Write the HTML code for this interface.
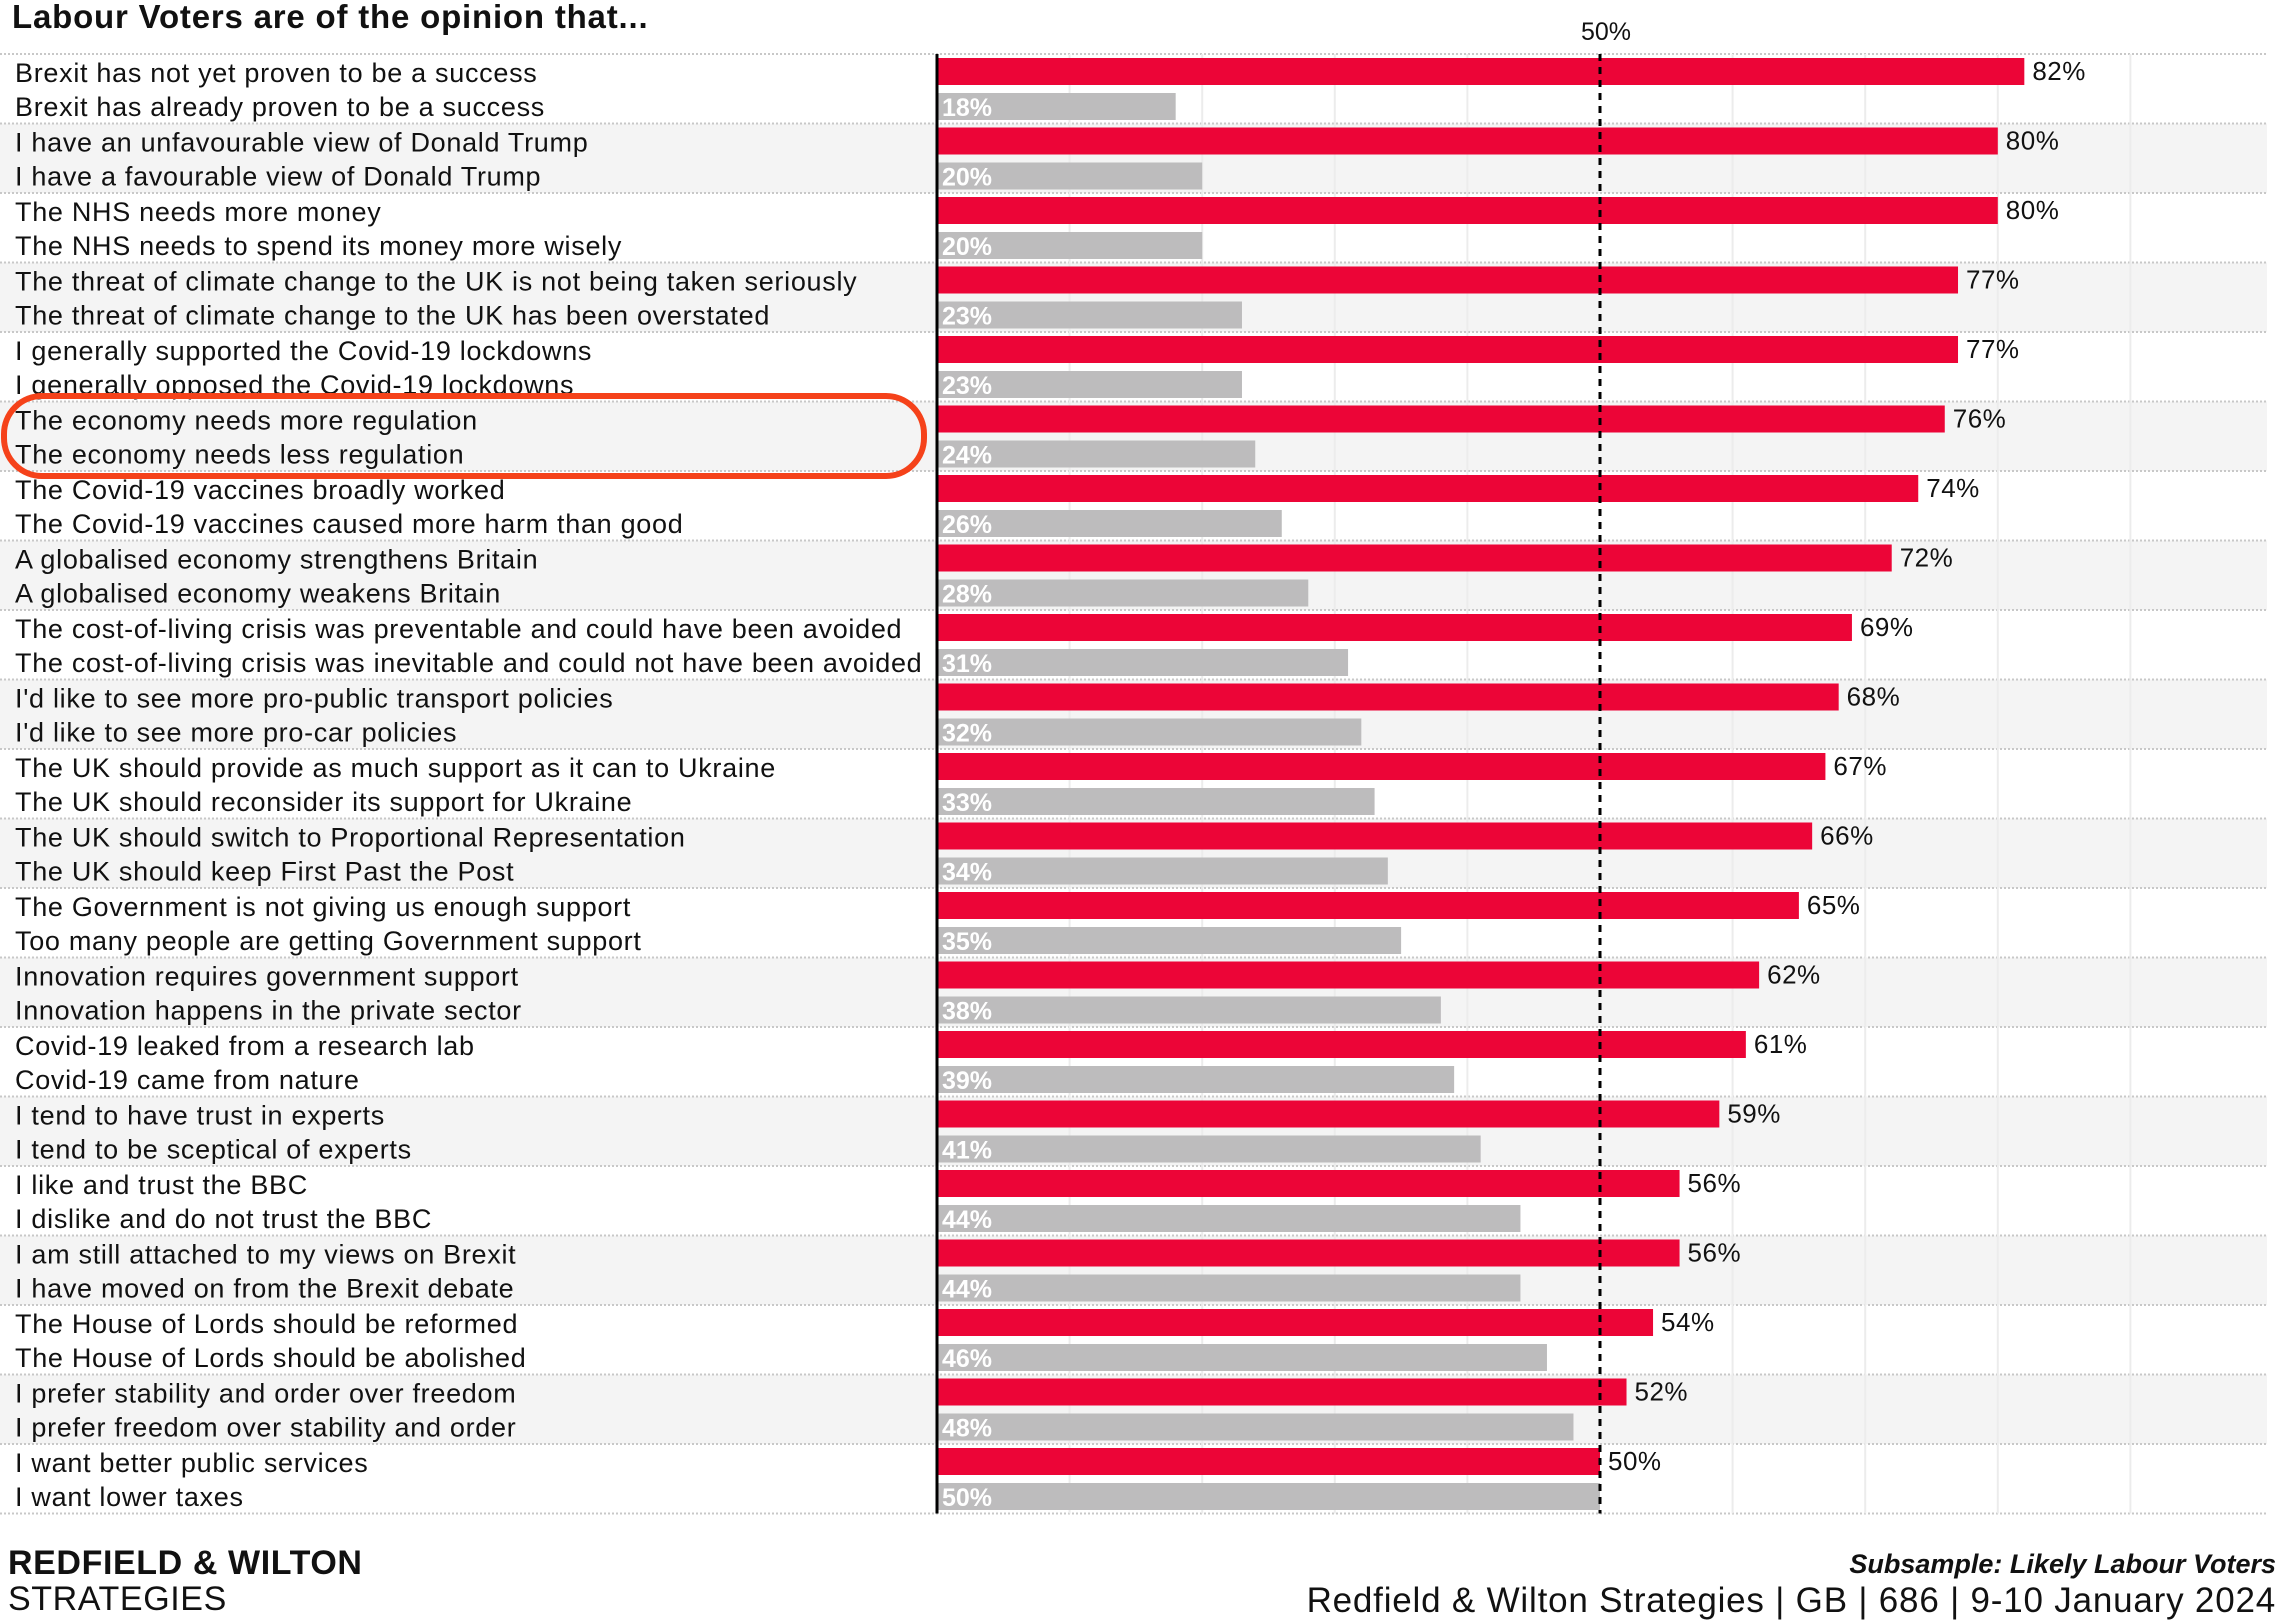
<!DOCTYPE html>
<html><head><meta charset="utf-8"><style>
html,body{margin:0;padding:0;background:#fff;}
svg{display:block;font-family:"Liberation Sans",sans-serif;}
</style></head><body>
<svg id="chart" width="2279" height="1622" viewBox="0 0 2279 1622" xmlns="http://www.w3.org/2000/svg">
<text x="12" y="28" font-size="33" font-weight="bold" letter-spacing="0.8" fill="#111">Labour Voters are of the opinion that...</text>
<g id="bands"></g><g id="grid"></g><g id="bars"></g>
<text x="8" y="1574" font-size="34" font-weight="bold" letter-spacing="0.6" fill="#111">REDFIELD &amp; WILTON</text>
<text x="8" y="1610" font-size="34" letter-spacing="0.6" fill="#111">STRATEGIES</text>
<text x="2276" y="1573" font-size="27" font-weight="bold" font-style="italic" text-anchor="end" fill="#111">Subsample: Likely Labour Voters</text>
<text x="2276" y="1612" font-size="35" letter-spacing="0.8" text-anchor="end" fill="#111">Redfield &amp; Wilton Strategies | GB | 686 | 9-10 January 2024</text>
<rect x="4" y="396" width="920" height="80" rx="38" fill="none" stroke="#f5421a" stroke-width="6"/>
</svg>
<script>
const labelsA=["Brexit has not yet proven to be a success","I have an unfavourable view of Donald Trump","The NHS needs more money","The threat of climate change to the UK is not being taken seriously","I generally supported the Covid-19 lockdowns","The economy needs more regulation","The Covid-19 vaccines broadly worked","A globalised economy strengthens Britain","The cost-of-living crisis was preventable and could have been avoided","I'd like to see more pro-public transport policies","The UK should provide as much support as it can to Ukraine","The UK should switch to Proportional Representation","The Government is not giving us enough support","Innovation requires government support","Covid-19 leaked from a research lab","I tend to have trust in experts","I like and trust the BBC","I am still attached to my views on Brexit","The House of Lords should be reformed","I prefer stability and order over freedom","I want better public services"];
const labelsB=["Brexit has already proven to be a success","I have a favourable view of Donald Trump","The NHS needs to spend its money more wisely","The threat of climate change to the UK has been overstated","I generally opposed the Covid-19 lockdowns","The economy needs less regulation","The Covid-19 vaccines caused more harm than good","A globalised economy weakens Britain","The cost-of-living crisis was inevitable and could not have been avoided","I'd like to see more pro-car policies","The UK should reconsider its support for Ukraine","The UK should keep First Past the Post","Too many people are getting Government support","Innovation happens in the private sector","Covid-19 came from nature","I tend to be sceptical of experts","I dislike and do not trust the BBC","I have moved on from the Brexit debate","The House of Lords should be abolished","I prefer freedom over stability and order","I want lower taxes"];
const valuesA=[82,80,80,77,77,76,74,72,69,68,67,66,65,62,61,59,56,56,54,52,50];
const valuesB=[18,20,20,23,23,24,26,28,31,32,33,34,35,38,39,41,44,44,46,48,50];
const gridTicks=[10,20,30,40,60,70,80,90];
const refValue=50;
const NS="http://www.w3.org/2000/svg";
const X0=937, PX=13.26, TOP=54, GH=69.5, RIGHT=2267;
const xs=v=>X0+v*PX;
const yg=i=>TOP+i*GH;
function mk(tag,attrs,parent,text){const e=document.createElementNS(NS,tag);for(const k in attrs)e.setAttribute(k,attrs[k]);if(text!==undefined)e.textContent=text;parent.appendChild(e);return e;}
const bands=document.getElementById('bands'),grid=document.getElementById('grid'),bars=document.getElementById('bars');
const n=labelsA.length;
for(let i=0;i<n;i++){
  const y=yg(i);
  if(i%2===1){const b=mk('rect',{x:0,y:y,width:RIGHT,height:GH,fill:'#f4f4f4'},bands);
  
  }
  const l=mk('line',{x1:0,x2:RIGHT,y1:y,y2:y,stroke:'#c8c8c8','stroke-width':2,'stroke-dasharray':'2,2'},bands);
  
  
}
const lb=mk('line',{x1:0,x2:RIGHT,y1:yg(n),y2:yg(n),stroke:'#c8c8c8','stroke-width':2,'stroke-dasharray':'2,2'},bands);


gridTicks.forEach(t=>{const g=mk('line',{x1:xs(t),x2:xs(t),y1:TOP,y2:yg(n),stroke:'#ececec','stroke-width':2},grid);

});
for(let i=0;i<n;i++){
  const y=yg(i);
  const ta=mk('text',{x:15,y:y+28,'font-size':27,'letter-spacing':0.7,fill:'#111'},bars,labelsA[i]);
  
  
  const tb=mk('text',{x:15,y:y+62,'font-size':27,'letter-spacing':0.7,fill:'#111'},bars,labelsB[i]);
  
  
  const ra=mk('rect',{x:X0,y:y+4,width:valuesA[i]*PX,height:27,fill:'#ec0537'},bars);
  
  
  const va=mk('text',{x:xs(valuesA[i])+8,y:y+26,'font-size':26,'letter-spacing':0.5,fill:'#111'},bars,valuesA[i]+'%');
  
  
  const rb=mk('rect',{x:X0,y:y+39,width:valuesB[i]*PX,height:27,fill:'#bdbcbd'},bars);
  
  
  const vb=mk('text',{x:X0+5,y:y+62,'font-size':25,'font-weight':'bold',fill:'#fff'},bars,valuesB[i]+'%');
  
  
}
const ax=mk('line',{x1:X0,x2:X0,y1:TOP,y2:yg(n),stroke:'#000','stroke-width':3},bars);


const rl=mk('line',{x1:xs(refValue),x2:xs(refValue),y1:TOP,y2:yg(n),stroke:'#000','stroke-width':3,'stroke-dasharray':'7,6'},bars);


const rt=mk('text',{x:xs(refValue)+6,y:40,'font-size':25,'text-anchor':'middle',fill:'#111'},bars,refValue+'%');


</script>
</body></html>
